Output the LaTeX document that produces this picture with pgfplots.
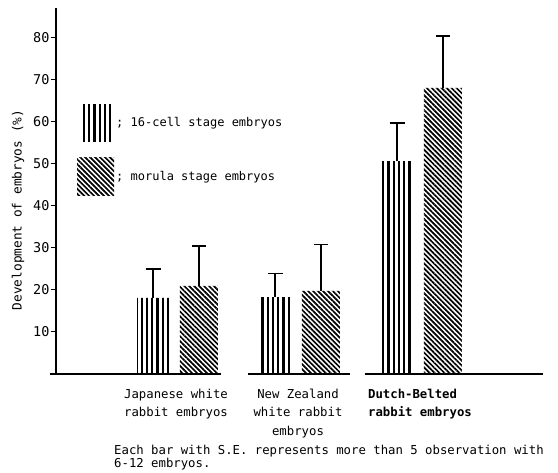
\documentclass[border=0pt]{standalone}
\usepackage{pgfplots}
\pgfplotsset{compat=1.18}
\usepackage{pgfplotstable}
\usepackage{fontspec}
\setmainfont{DejaVu Sans Mono}
\usetikzlibrary{patterns.meta}

\pgfplotstableread{
grp val err
1 18.1 6.9
2 18.3 5.6
3 50.7 9.1
}\cellsixteen
\pgfplotstableread{
grp val err
1 21.0 9.5
2 19.8 11.0
3 68.1 12.4
}\morula

\begin{document}
\begin{tikzpicture}
\useasboundingbox (0,0) rectangle (558pt,473pt);
\begin{axis}[
  at={(56pt,99pt)}, anchor=south west,
  scale only axis, width=487pt, height=366pt,
  xmin=0.0164, xmax=4.0082, ymin=0, ymax=87.14,
  axis y line=left, axis x line=bottom,
  x axis line style={draw=none},
  y axis line style={-, line width=1.3pt},
  clip=false,
  ytick={10,20,...,80},
  tick align=outside, major tick length=5pt,
  ytick style={line width=1pt, black},
  xtick={1,2,3}, xtick style={draw=none},
  xticklabels={
    {\begin{tabular}{@{}c@{}}Japanese white\\rabbit embryos\end{tabular}},
    {\begin{tabular}{@{}c@{}}New Zealand\\white rabbit\\embryos\end{tabular}},
    {\begin{tabular}{@{}l@{}}\textbf{Dutch-Belted}\\\textbf{rabbit embryos}\end{tabular}}
  },
  xticklabel style={font=\fontsize{12.3}{18.5}\selectfont, anchor=north, yshift=-3pt},
  yticklabel style={font=\fontsize{13.5}{15}\selectfont, xshift=2pt},
  /pgf/number format/assume math mode=true,
  ylabel={Development of embryos (\%)},
  ylabel style={at={(axis description cs:-0.078,0.448)}, anchor=center, font=\fontsize{12.8}{15}\selectfont},
  legend style={at={(axis description cs:0.0431,0.7377)}, anchor=north west, draw=none, fill=none,
    inner sep=0pt, row sep=16pt, font=\fontsize{12}{14}\selectfont},
  legend cell align=left,
]
\addplot[ybar, bar width=32pt, bar shift=0pt, draw=none,
  pattern={Lines[angle=90,distance=5.25pt,line width=2.1pt]},
  legend image code/.code={\path[pattern={Lines[angle=90,distance=5.25pt,line width=2.1pt]}] (4pt,-18.5pt) rectangle (36pt,18.5pt);},
  error bars/.cd, y dir=plus, y explicit,
  error bar style={draw=black, line width=1.5pt},
  error mark options={rotate=90, draw=black, mark size=7.5pt, line width=1.5pt}]
  table[x expr=\thisrow{grp}-0.1885, y=val, y error=err]{\cellsixteen};
\addplot[ybar, bar width=38pt, bar shift=0pt, draw=none,
  pattern={Lines[angle=-45,distance=3.5pt,line width=1.7pt]},
  legend image code/.code={\path[pattern={Lines[angle=-45,distance=3.5pt,line width=1.7pt]}] (0pt,-19pt) rectangle (37pt,19pt);},
  error bars/.cd, y dir=plus, y explicit,
  error bar style={draw=black, line width=1.5pt},
  error mark options={rotate=90, draw=black, mark size=7pt, line width=1.5pt}]
  table[x expr=\thisrow{grp}+0.1885, y=val, y error=err]{\morula};
\legend{; 16-cell stage embryos, ; morula stage embryos}
\draw[line width=1.3pt] (axis cs:-0.033,0) -- (axis cs:1.369,0);
\draw[line width=1.3pt] (axis cs:1.590,0) -- (axis cs:2.426,0);
\draw[line width=1.3pt] (axis cs:2.549,0) -- (axis cs:4.008,0);
\end{axis}
\node[anchor=base west, inner sep=0pt, font=\fontsize{12.3}{14}\selectfont] at (114pt,18pt) {Each bar with S.E. represents more than 5 observation with};
\node[anchor=base west, inner sep=0pt, font=\fontsize{12.3}{14}\selectfont] at (114pt,5pt) {6-12 embryos.};
\end{tikzpicture}
\end{document}
